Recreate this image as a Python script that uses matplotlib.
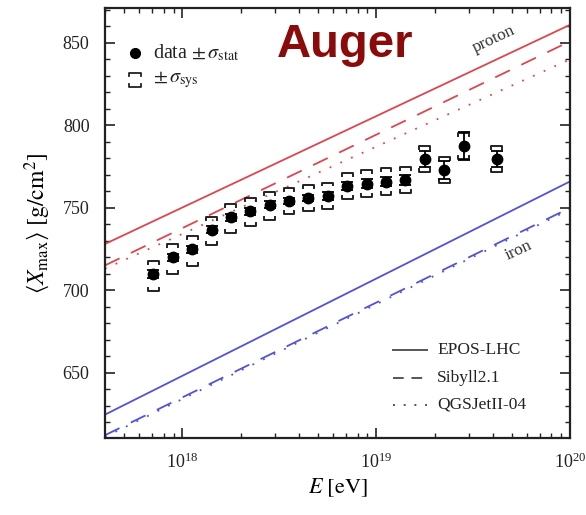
import numpy as np
import matplotlib
matplotlib.use("Agg")
import matplotlib.pyplot as plt

plt.rcParams['font.family'] = ['Liberation Serif', 'DejaVu Serif']
plt.rcParams['mathtext.fontset'] = 'stix'

# measured data: log10(E/eV), <Xmax>, stat error, sys up / down
lgE = [17.85, 17.95, 18.05, 18.15, 18.25, 18.35, 18.45, 18.55, 18.65,
       18.75, 18.85, 18.95, 19.05, 19.15, 19.25, 19.35, 19.45, 19.62]
xmax = [709.8, 719.9, 724.7, 736.7, 744.1, 747.8, 751.8, 754.2, 755.9,
        757.3, 763.3, 764.7, 765.9, 766.8, 779.5, 773.0, 787.6, 779.5]
stat = [2.5, 2.0, 2.0, 2.0, 2.0, 2.0, 2.0, 2.0, 2.0,
        2.5, 2.5, 2.5, 3.0, 3.0, 5.0, 5.5, 8.5, 5.0]
sys_up = [8, 8, 8, 7.5, 8, 8, 8, 8, 8, 8, 8, 8, 8, 8, 8, 8, 8, 8]
sys_dn = [10, 10, 10, 9.5, 9.5, 9, 9, 8, 8, 8, 8, 8, 8, 8, 8, 8, 8, 8]

# model predictions (linear in lgE), values at lgE = 17.6 and 20.0
lg_ends = [17.6, 20.0]
models = ["EPOS-LHC", "Sibyll2.1", "QGSJetII-04"]
styles = ["-", (0, (9, 7)), (0, (1, 5.5))]
key_styles = ["-", (0, (5.5, 4)), (0, (1, 4.5))]
proton = [[728, 861], [715, 851], [713, 840]]
iron = [[624.5, 766], [612, 750], [611, 749]]

red = '#dc4650'
blue = '#5252d6'

fig = plt.figure(figsize=(5.86, 5.15), dpi=100)
ax = fig.add_axes([0.179, 0.150, 0.794, 0.834])

E_ends = 10.0 ** np.array(lg_ends)
for ls, p, fe in zip(styles, proton, iron):
    ax.plot(E_ends, p, color=red, lw=1.3, ls=ls)
    ax.plot(E_ends, fe, color=blue, lw=1.3, ls=ls)

# data points with stat errors
E = 10.0 ** np.array(lgE)
ax.errorbar(E, xmax, yerr=stat, fmt='o', color='black', ms=7.5,
            elinewidth=1.3, capsize=4, capthick=1.3, zorder=5)

# systematic brackets
hw = 0.028
tk = 1.8
for l, y, su, sd in zip(lgE, xmax, sys_up, sys_dn):
    x0, x1 = 10 ** (l - hw), 10 ** (l + hw)
    yt, yb = y + su, y - sd
    ax.plot([x0, x0, x1, x1], [yt - tk, yt, yt, yt - tk], color='#222222', lw=1.4, zorder=4)
    ax.plot([x0, x0, x1, x1], [yb + tk, yb, yb, yb + tk], color='#222222', lw=1.4, zorder=4)

ax.set_xscale('log')
ax.set_xlim(10 ** 17.6, 1e20)
ax.set_ylim(610.5, 871)
ax.set_yticks([650, 700, 750, 800, 850])
ax.set_yticks(np.arange(620, 871, 10), minor=True)
ax.tick_params(which='both', direction='in', top=True, right=True,
               labelsize=13, colors='#222222')
ax.tick_params(axis='x', which='major', pad=11)
ax.tick_params(axis='y', which='major', pad=11)
ax.tick_params(which='major', length=7, width=1.2)
ax.tick_params(which='minor', length=3.5, width=1.0)
for s in ax.spines.values():
    s.set_linewidth(1.6)
    s.set_color('#222222')

ax.set_xlabel(r'$E\ [\mathrm{eV}]$', fontsize=16, labelpad=3)
ax.set_ylabel(r'$\langle X_{\mathrm{max}}\rangle\ [\mathrm{g/cm^2}]$', fontsize=17, labelpad=8)

ax.text(0.37, 0.886, 'Auger', transform=ax.transAxes, fontsize=34,
        fontweight='bold', color='#8b0a0a', family='Liberation Sans')
ax.text(0.835, 0.928, 'proton', transform=ax.transAxes, fontsize=12.5,
        color='#333333', rotation=25, ha='center', va='center')
ax.text(0.89, 0.437, 'iron', transform=ax.transAxes, fontsize=12.5,
        color='#333333', rotation=25, ha='center', va='center')

# data legend (top left)
ax.plot([0.065], [0.895], 'o', color='black', ms=7, transform=ax.transAxes)
ax.text(0.103, 0.895, r'data $\pm\,\sigma_{\mathrm{stat}}$', transform=ax.transAxes,
        fontsize=14.5, va='center', color='#222222')
bx0, bx1, by = 0.052, 0.078, 0.833
ax.plot([bx0, bx0, bx1, bx1], [by + 0.010, by + 0.017, by + 0.017, by + 0.010],
        color='#222222', lw=1.3, transform=ax.transAxes)
ax.plot([bx0, bx0, bx1, bx1], [by - 0.010, by - 0.017, by - 0.017, by - 0.010],
        color='#222222', lw=1.3, transform=ax.transAxes)
ax.text(0.103, 0.833, r'$\pm\,\sigma_{\mathrm{sys}}$', transform=ax.transAxes,
        fontsize=14.5, va='center', color='#222222')

# model legend (bottom right)
rows = [0.205, 0.140, 0.077]
for name, ls, yr in zip(models, key_styles, rows):
    ax.plot([0.619, 0.692], [yr, yr], color='#555555', lw=1.4, ls=ls,
            transform=ax.transAxes)
    ax.text(0.714, yr, name, transform=ax.transAxes, fontsize=12.5,
            va='center', color='#222222')

fig.savefig('out.png', dpi=100)
